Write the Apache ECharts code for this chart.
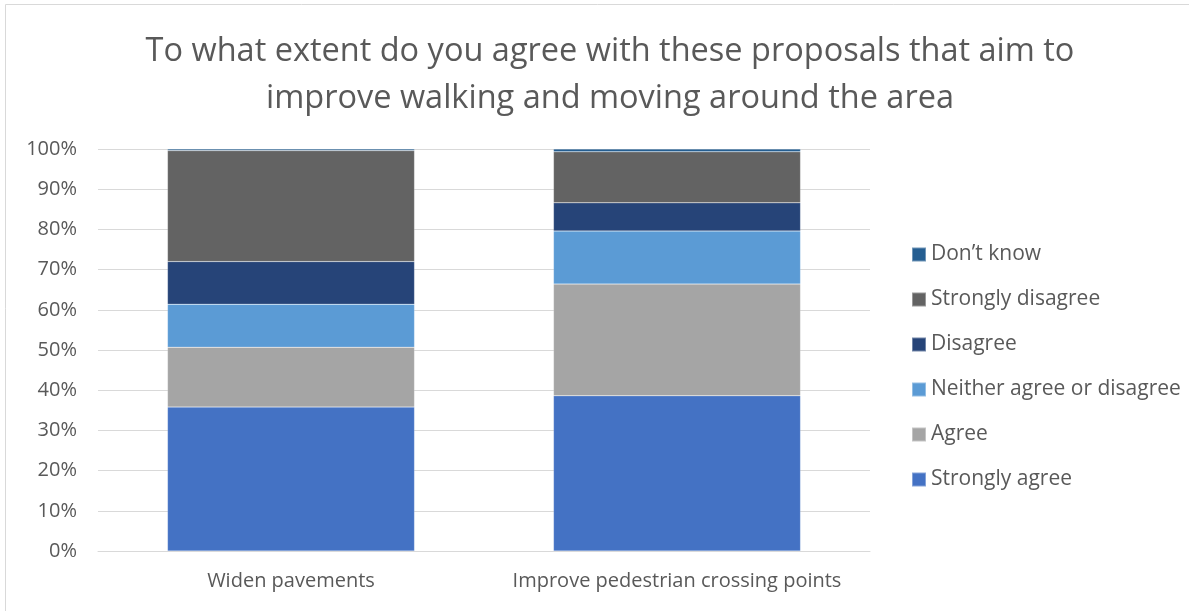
<!DOCTYPE html>
<html>
<head>
<meta charset="utf-8">
<script src="https://cdn.jsdelivr.net/npm/echarts@6/dist/echarts.min.js"></script>
<style>
  html, body { margin: 0; padding: 0; background: #fff; }
  #chart { width: 1189px; height: 611px; }
</style>
</head>
<body>
<div id="chart"></div>
<script>
// Survey responses, percent of respondents per proposal
const categories = ['Widen pavements', 'Improve pedestrian crossing points'];
const stronglyAgree    = [35.8, 38.6];
const agree            = [14.9, 27.8];
const neither          = [10.7, 13.2];
const disagree         = [10.6, 7.0];
const stronglyDisagree = [27.6, 12.7];
const dontKnow         = [0.4, 0.7];

const seriesNames = ['Strongly agree', 'Agree', 'Neither agree or disagree', 'Disagree', 'Strongly disagree', 'Don\u2019t know'];
const seriesValues = [stronglyAgree, agree, neither, disagree, stronglyDisagree, dontKnow];
const seriesColors = ['#4472C4', '#A5A5A5', '#5B9BD5', '#264478', '#636363', '#255E91'];

const font = "'Open Sans', 'Liberation Sans', sans-serif";
const textColor = '#595959';

const chart = echarts.init(document.getElementById('chart'));
chart.setOption({
  animation: false,
  textStyle: { fontFamily: font },
  title: {
    text: 'To what extent do you agree with these proposals that aim to\nimprove walking and moving around the area',
    left: 605,
    textAlign: 'center',
    top: 23,
    textStyle: { fontFamily: font, fontSize: 32.5, fontWeight: 'normal', color: textColor, lineHeight: 47 }
  },
  graphic: [{
    type: 'rect',
    shape: { x: 5.5, y: 4.5, width: 1200, height: 700 },
    style: { fill: 'none', stroke: '#d9d9d9', lineWidth: 1 },
    silent: true
  }],
  legend: {
    orient: 'vertical',
    left: 911,
    top: 244,
    padding: 0,
    itemWidth: 14,
    itemHeight: 14,
    itemGap: 24,
    icon: 'rect',
    data: seriesNames.slice().reverse(),
    textStyle: { fontFamily: font, fontSize: 21, color: textColor }
  },
  grid: { left: 98, right: 319, top: 149, bottom: 60 },
  xAxis: {
    type: 'category',
    data: categories,
    axisLine: { lineStyle: { color: '#d9d9d9' } },
    axisTick: { show: false },
    axisLabel: { interval: 0, fontFamily: font, fontSize: 20, color: textColor, margin: 20 }
  },
  yAxis: {
    type: 'value',
    min: 0,
    max: 100,
    interval: 10,
    axisLine: { show: false },
    axisTick: { show: false },
    splitLine: { lineStyle: { color: '#d9d9d9', width: 1 } },
    axisLabel: { fontFamily: font, fontSize: 20, color: textColor, margin: 21, formatter: '{value}%' }
  },
  series: seriesNames.map((name, i) => ({
    name: name,
    type: 'bar',
    stack: 'total',
    barWidth: '64%',
    data: seriesValues[i],
    itemStyle: { color: seriesColors[i], borderColor: 'rgba(255,255,255,0.35)', borderWidth: 0.5 }
  }))
});
</script>
</body>
</html>
